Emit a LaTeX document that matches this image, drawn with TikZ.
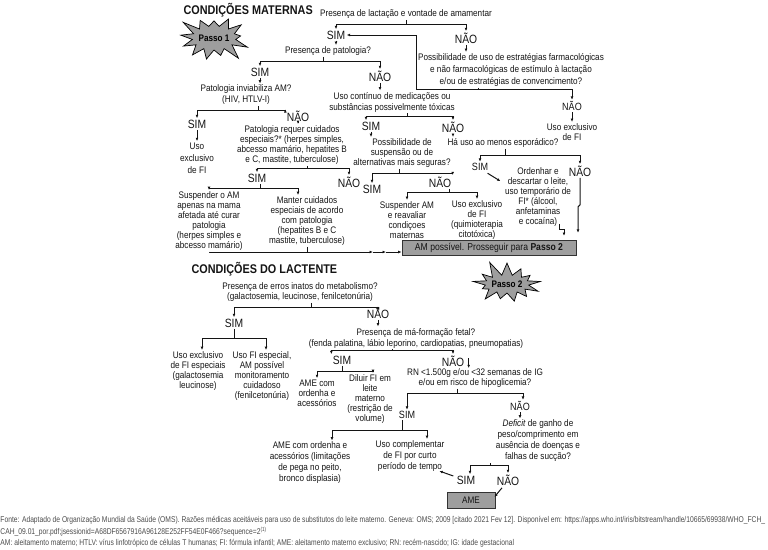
\documentclass[tikz,border=0pt]{standalone}
\usepackage{fontspec}
\setmainfont{Liberation Sans}[FakeStretch=0.86]
\newfontfamily\footfont{Liberation Sans}[FakeStretch=0.8]
\usetikzlibrary{calc,arrows.meta,shapes.symbols}

% fork: tick down from a question, a bar, and two arrows down to the answers
\newcommand{\fork}[5][0]{%
	\path ($(#2.south)+(#1,0)$) coordinate (fkT) (#4) coordinate (fkL) (#5) coordinate (fkR);
	\draw (fkT) -- (fkT |- 0,#3);
	\draw[<->] (fkL) -- (fkL |- 0,#3) -- (fkR |- 0,#3) -- (fkR);}

\tikzset{
	txt/.style={inner sep=1pt, align=center, text=black!92, font=\fontsize{9.5}{10}\selectfont},
	loose/.style={txt, font=\fontsize{9.5}{12}\selectfont},
	med/.style={txt, font=\fontsize{9.5}{11}\selectfont},
	big/.style={inner sep=1pt, text=black!92, font=\fontsize{12}{12}\selectfont},
	mid/.style={inner sep=1pt, text=black!92, font=\fontsize{10.5}{11}\selectfont},
	hdr/.style={anchor=west, inner sep=0pt, text=black!92, font=\fontsize{12.6}{13}\selectfont\bfseries},
	grbox/.style={draw=black!80, fill=black!38, line width=0.8pt, inner sep=0pt, text=black!92},
	burst/.style={starburst, starburst points=13, starburst point height=16pt, random starburst=3,
		draw=black, line width=0.7pt, fill=black!38, minimum width=64pt, minimum height=56pt,
		inner sep=0pt, font=\fontsize{9.5}{9}\selectfont\bfseries},
	foot/.style={anchor=west, inner sep=0pt, text=black!70, font=\footfont\fontsize{8.4}{8}\selectfont},
}

\begin{document}
\begin{tikzpicture}[x=1pt, y=-1pt, line width=1pt, draw=black!92, >={Latex[length=3.4pt,width=2.8pt]}]
			\useasboundingbox (0,0) rectangle (768,549);
			%%%%% CONDICOES MATERNAS %%%%%
			
			\node[hdr] (hdrMat) at (183,10) {CONDIÇÕES MATERNAS};
			\node[burst] (passo1) at (214,38) {Passo 1};
			
			\node[txt] (presLact) at (406,14) {Presença de lactação e vontade de amamentar};
			\node[big] (sim1) at (336,35) {SIM};
			\node[big] (nao1) at (466,38) {NÃO};
			\node[loose] (possFarm) at (511,70) {Possibilidade de uso de estratégias farmacológicas\\e não farmacológicas de estímulo à lactação\\e/ou de estratégias de convencimento?};
			\node[mid] (naoFarm) at (572,106) {NÃO};
			\node[txt] (usoFI1) at (572,132) {Uso exclusivo\\de FI};
			
			\node[txt] (presPat) at (328,51) {Presença de patologia?};
			\node[big] (sim2) at (260,72) {SIM};
			\node[big] (nao2) at (380,76) {NÃO};
			
			\node[med] (patInv) at (246,95) {Patologia inviabiliza AM?\\(HIV, HTLV-I)};
			\node[big] (sim3) at (197,124) {SIM};
			\node[big] (nao3) at (298,116) {NÃO};
			\node[loose] (usoFI2) at (197,158) {Uso\\exclusivo\\de FI};
			
			\node[txt] (patReq) at (292,145) {Patologia requer cuidados\\especiais?* (herpes simples,\\abcesso mamário, hepatites B\\e C, mastite, tuberculose)};
			\node[big] (sim4) at (257,178) {SIM};
			\node[big] (nao4) at (349,182) {NÃO};
			\node[txt] (susp1) at (209,221) {Suspender o AM\\apenas na mama\\afetada até curar\\patologia\\(herpes simples e\\abcesso mamário)};
			\node[txt] (manter) at (307,221) {Manter cuidados\\especiais de acordo\\com patologia\\(hepatites B e C\\mastite, tuberculose)};
			
			\node[med] (usoCont) at (392,102) {Uso contínuo de medicações ou\\substâncias possivelmente tóxicas};
			\node[big] (sim5) at (371,126) {SIM};
			\node[big] (nao5) at (453,127) {NÃO};
			\node[txt] (possSusp) at (402,153) {Possibilidade de\\suspensão ou de\\alternativas mais seguras?};
			\node[big] (sim6) at (372,189) {SIM};
			\node[big] (nao6) at (440,182) {NÃO};
			\node[txt] (suspAM) at (407,220) {Suspender AM\\e reavaliar\\condiçoes\\maternas};
			\node[txt] (usoFI3) at (477,220) {Uso exclusivo\\de FI\\(quimioterapia\\citotóxica)};
			
			\node[txt] (haUso) at (503,143) {Há uso ao menos esporádico?};
			\node[mid] (sim7) at (480,167) {SIM};
			\node[big] (nao7) at (580,171) {NÃO};
			\node[txt] (ordenhar) at (538,197) {Ordenhar e\\descartar o leite,\\uso temporário de\\FI* (álcool,\\anfetaminas\\e cocaína)};
			
			\node[grbox, minimum width=174pt, minimum height=15pt, font=\fontsize{10}{10}\selectfont] (box1) at (489,248) {AM possível. Prosseguir para \textbf{Passo 2}};
			
			% connectors
			\fork{presLact}{24}{sim1.north}{nao1.north}
			\draw[->] (nao1.south) -- (nao1.south |- possFarm.north);
			\path ($(possFarm.south)+(-33,0)$) coordinate (fkT);
			\draw (fkT) -- (fkT |- 0,89);
			\draw[<->] (sim1.east) -- (sim1.east -| 416,0) |- (naoFarm.north |- 0,89) -- (naoFarm.north);
			\draw[->] (naoFarm.south) -- (usoFI1.north);
			
			\draw[->] (sim1.south) -- (sim1.south |- presPat.north);
			\fork[-5]{presPat}{61}{sim2.north}{nao2.north}
			\draw[->] (sim2.south) -- (sim2.south |- patInv.north);
			\fork[12]{patInv}{110}{sim3.north}{nao3.north west}
			\draw[->] (sim3.south) -- (usoFI2.north);
			\draw[->] (nao3.south) -- (nao3.south |- patReq.north);
			\fork[15]{patReq}{168}{sim4.north}{nao4.north}
			\fork[3]{sim4}{188}{susp1.north}{$(manter.north)+(-9,0)$}
			
			\draw[->] (nao2.south) -- (nao2.south |- usoCont.north);
			\fork[15]{usoCont}{116}{$(sim5.north)+(-5,0)$}{nao5.north}
			\draw[->] (sim5.south) -- (sim5.south |- possSusp.north);
			\fork[-3]{possSusp}{173}{sim6.north}{nao6.north east}
			\fork[9]{nao6}{192}{suspAM.north}{usoFI3.north}
			
			\draw[->] (nao5.south) -- (nao5.south |- haUso.north);
			\fork[2]{haUso}{155}{sim7.north}{nao7.north}
			\draw[->] ($(sim7.south east)+(-2,1)$) -- ++(13,8);
			\draw[->] ($(ordenhar.south)+(21,-4)$) -- ++(0,6) -- ++(5,0) -- ++(0,6);
			\draw[->] (nao7.south) -- ++(0,27) -- ++(-2,2) -- ++(0,26);
			
			% all the left answers into the grey box
			\coordinate (j1) at (373,252);
			\coordinate (j2) at (386,252);
			\draw[->] (susp1.south) |- (j1);
			\draw[->] (j1) -- (j2);
			\draw[->] (j2) -- (box1.west |- j2);
			\draw (manter.south) -- (manter.south |- j1);
			\draw ($(nao4.south)+(4,0)$) -- ($(nao4.south)+(4,0)$ |- j1);
			\draw ($(sim6.south)+(-5,0)$) -- ($(sim6.south)+(-5,0)$ |- j1);
			
			%%%%% CONDICOES DO LACTENTE %%%%%
			
			\node[hdr] (hdrLac) at (191,269) {CONDIÇÕES DO LACTENTE};
			\node[burst, random starburst=11, minimum height=50pt] (passo2) at (507,284) {Passo 2};
			
			\node[txt] (erros) at (300,292) {Presença de erros inatos do metabolismo?\\(galactosemia, leucinose, fenilcetonúria)};
			\node[big] (sim8) at (234,323) {SIM};
			\node[big] (nao8) at (378,313) {NÃO};
			\node[txt] (usoEsp) at (198,371) {Uso exclusivo\\de FI especiais\\(galactosemia\\leucinose)};
			\node[txt] (usoFIesp) at (262,376) {Uso FI especial,\\AM possível\\monitoramento\\cuidadoso\\(fenilcetonúria)};
			
			\node[med] (maForm) at (416,338) {Presença de má-formação fetal?\\(fenda palatina, lábio leporino, cardiopatias, pneumopatias)};
			\node[big] (sim9) at (342,360) {SIM};
			\node[big] (nao9) at (453,361) {NÃO};
			\node[txt] (ameOrd1) at (317,393) {AME com\\ordenha e\\acessórios};
			\node[txt] (diluir) at (370,399) {Diluir FI em\\leite\\materno\\(restrição de\\volume)};
			
			\node[txt] (rn) at (475,378) {RN <1.500g e/ou <32 semanas de IG\\e/ou em risco de hipoglicemia?};
			\node[mid] (sim10) at (407,415) {SIM};
			\node[mid] (nao10) at (520,406) {NÃO};
			\node[med] (deficit) at (538,441) {\textit{Deficit} de ganho de\\peso/comprimento em\\ausência de doenças e\\falhas de sucção?};
			\node[med] (ameOrd2) at (310,463) {AME com ordenha e\\acessórios (limitações\\de pega no peito,\\bronco displasia)};
			\node[med] (usoCompl) at (410,456) {Uso complementar\\de FI por curto\\período de tempo};
			\node[big] (sim11) at (466,480) {SIM};
			\node[big] (nao11) at (508,480) {NÃO};
			\node[grbox, minimum width=48pt, minimum height=16pt, font=\fontsize{9.5}{10}\selectfont] (ame) at (471,500) {AME};
			
			% connectors
			\fork[11]{erros}{307}{sim8.north}{nao8.north}
			\draw[->] (nao8.south) -- (nao8.south |- maForm.north);
			\fork{sim8}{338}{$(usoEsp.north)+(4,0)$}{$(usoFIesp.north)+(4,0)$}
			\fork[-24]{maForm}{350}{sim9.north west}{nao9.north}
			\draw[->] (nao9.north east) ++(3,4) -- ++(0,10);
			\fork{sim9}{371}{ameOrd1.north}{$(diluir.north)+(3,0)$}
			\fork[-18]{rn}{393}{sim10.north}{$(nao10.north)+(3,0)$}
			\draw[->] (nao10.south) -- (nao10.south |- deficit.north);
			\fork[-5]{sim10}{430}{$(ameOrd2.north)+(22,0)$}{$(usoCompl.north)+(17,0)$}
			\fork[-48]{deficit}{465}{$(sim11.north)+(4,0)$}{nao11.north}
			\draw[->] ($(sim11.west)+(-2,-4)$) -- ++(-14,-5);
			\draw[->] ($(nao11.south)+(-6,1)$) -- ($(ame.east)+(-1,-3)$);
			
			%%%%% FONTE %%%%%
			
			\node[foot] (fonte1) at (0,520) {Fonte: Adaptado de Organização Mundial da Saúde (OMS). Razões médicas aceitáveis para uso de substitutos do leite materno. Geneva: OMS; 2009 [citado 2021 Fev 12]. Disponível em: https://apps.who.int/iris/bitstream/handle/10665/69938/WHO\_FCH\_};
			\node[foot] (fonte2) at (0,532) {CAH\_09.01\_por.pdf;jsessionid=A68DF6567916A96128E252FF54E0F466?sequence=2\textsuperscript{(1)}};
			\node[foot] (siglas) at (0,543) {AM: aleitamento materno; HTLV: vírus linfotrópico de células T humanas; FI: fórmula infantil; AME: aleitamento materno exclusivo; RN: recém-nascido; IG: idade gestacional};
		\end{tikzpicture}
\end{document}
